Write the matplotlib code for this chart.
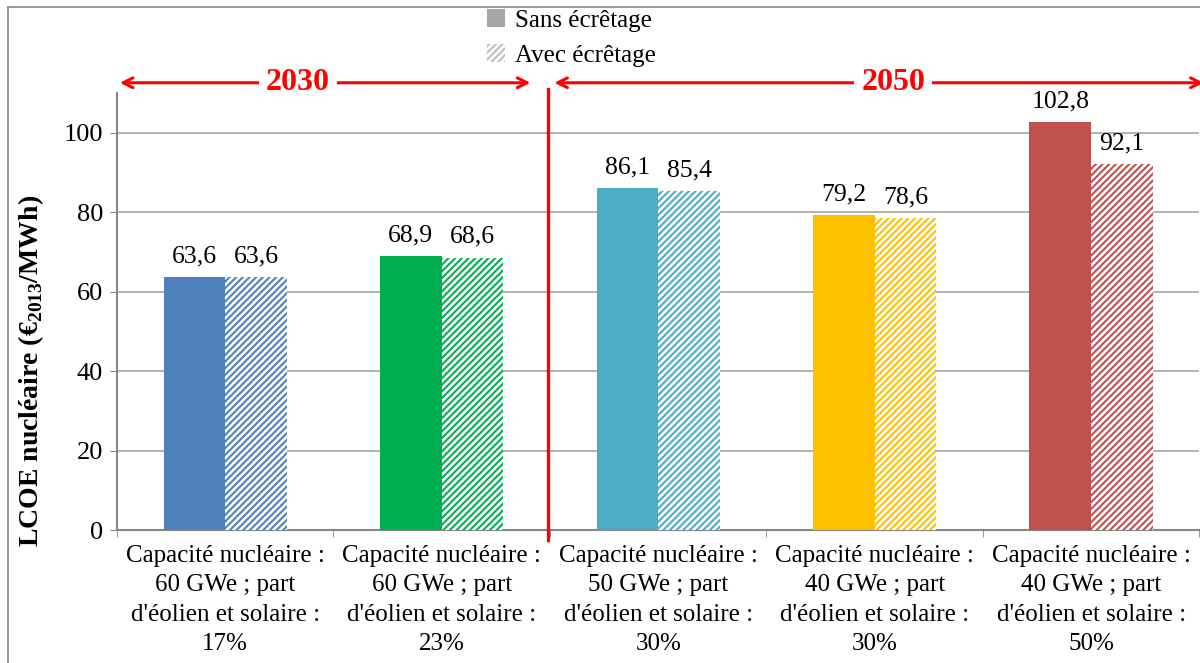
import numpy as np
import matplotlib
matplotlib.use("Agg")
import matplotlib.pyplot as plt
from matplotlib.patches import Patch
from matplotlib.lines import Line2D

plt.rcParams['font.family'] = ['Liberation Serif', 'DejaVu Serif']
plt.rcParams['mathtext.fontset'] = 'custom'
plt.rcParams['mathtext.rm'] = 'Liberation Serif'
plt.rcParams['mathtext.bf'] = 'Liberation Serif:bold'
plt.rcParams['hatch.linewidth'] = 1.5

categories = [
    "Capacité nucléaire :\n60 GWe ; part\nd'éolien et solaire :\n17%",
    "Capacité nucléaire :\n60 GWe ; part\nd'éolien et solaire :\n23%",
    "Capacité nucléaire :\n50 GWe ; part\nd'éolien et solaire :\n30%",
    "Capacité nucléaire :\n40 GWe ; part\nd'éolien et solaire :\n30%",
    "Capacité nucléaire :\n40 GWe ; part\nd'éolien et solaire :\n50%",
]
sans = [63.6, 68.9, 86.1, 79.2, 102.8]
avec = [63.6, 68.6, 85.4, 78.6, 92.1]
colors = ['#4F81BD', '#00B050', '#4BACC6', '#FFC000', '#C0504D']

fig = plt.figure(figsize=(12, 6.63), dpi=100)
ax = fig.add_axes([0.0975, 0.2006, 0.902, 0.659])

x = np.arange(len(categories))
w = 0.285
ax.bar(x - w / 2, sans, w, color=colors, linewidth=0, zorder=3)
ax.bar(x + w / 2, avec, w, color='white', edgecolor=colors, hatch='/////',
       linewidth=0, zorder=3)

for xi, v in zip(x - w / 2, sans):
    ax.annotate(f"{v:.1f}".replace('.', ','), (xi, v), xytext=(0, 7),
                textcoords='offset points', ha='center', va='bottom', fontsize=18.5)
for xi, v in zip(x + w / 2, avec):
    ax.annotate(f"{v:.1f}".replace('.', ','), (xi, v), xytext=(0, 7),
                textcoords='offset points', ha='center', va='bottom', fontsize=18.5)

ax.set_xlim(-0.5, 4.5)
ax.set_ylim(0, 110)
ax.set_yticks([0, 20, 40, 60, 80, 100])
ax.set_xticks(x)
ax.set_xticklabels(categories, fontsize=18, linespacing=1.42)
ax.set_xticks(np.arange(-0.5, 5, 1), minor=True)
ax.tick_params(axis='x', which='major', length=0, pad=11)
ax.tick_params(axis='x', which='minor', length=5, color='#868686')
ax.tick_params(axis='y', labelsize=19, length=5, color='#868686', pad=5)
ax.grid(axis='y', color='#A6A6A6', linewidth=1.2, zorder=0)
for s in ['top', 'right']:
    ax.spines[s].set_visible(False)
for s in ['left', 'bottom']:
    ax.spines[s].set_color('#868686')
    ax.spines[s].set_linewidth(1.5)

fig.text(31 / 1200, 1 - 371 / 663, r"LCOE nucléaire (€$_{\mathbf{2013}}$/MWh)",
         fontsize=20, fontweight='bold', rotation=90, ha='center', va='center')

# separation 2030 / 2050
ax.plot([1.49, 1.49], [-2.5, 111], color='red', linewidth=2.4, clip_on=False, zorder=5)

ya = 112.6
for x0, x1, xt, label in [(-0.487, 1.41, 0.335, '2030'), (1.52, 4.52, 3.085, '2050')]:
    ax.annotate('', xy=(x1, ya), xytext=(x0, ya),
                arrowprops=dict(arrowstyle='<->,head_length=0.7,head_width=0.35',
                                color='red', lw=2.2, shrinkA=0, shrinkB=0),
                annotation_clip=False)
    ax.text(xt, ya, label, color='red', fontsize=23, fontweight='bold',
            ha='center', va='center', clip_on=False,
            bbox=dict(facecolor='white', edgecolor='none', pad=5))

handles = [Patch(facecolor='#A6A6A6', edgecolor='none', label='Sans écrêtage'),
           Patch(facecolor='white', edgecolor='#BFBFBF', hatch='/////',
                 linewidth=0, label='Avec écrêtage')]
fig.legend(handles=handles, loc='center', bbox_to_anchor=(0.476, 0.943),
           frameon=False, fontsize=18, handlelength=0.7, handleheight=0.7,
           handletextpad=0.4, labelspacing=0.5, borderpad=0)

# outer frame of the original graphic
fig.add_artist(Line2D([8 / 1200, 8 / 1200], [0, 1 - 7 / 663],
                      transform=fig.transFigure, color='#868686', lw=1.2))
fig.add_artist(Line2D([8 / 1200, 1], [1 - 7 / 663, 1 - 7 / 663],
                      transform=fig.transFigure, color='#868686', lw=1.2))

fig.savefig('out.png', dpi=100)
